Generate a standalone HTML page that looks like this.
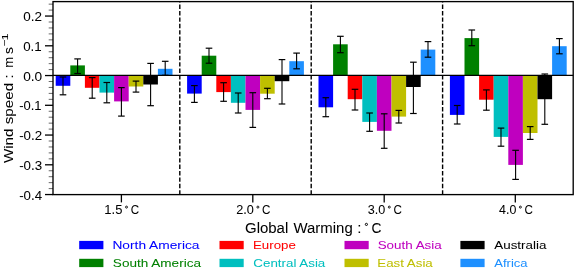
<!DOCTYPE html>
<html><head><meta charset="utf-8"><style>
html,body{margin:0;padding:0;background:#fff;width:575px;height:268px;overflow:hidden;}
svg{display:block;filter:blur(0.3px);}
text{font-family:"Liberation Sans",sans-serif;}
</style></head><body>
<svg width="575" height="268" viewBox="0 0 575 268" font-family="Liberation Sans, sans-serif">
<rect width="575" height="268" fill="#fff"/>
<rect x="55.70" y="75.55" width="14.60" height="10.25" fill="#0000ff"/>
<rect x="70.30" y="65.40" width="14.60" height="10.15" fill="#008000"/>
<rect x="84.90" y="75.55" width="14.60" height="12.25" fill="#ff0000"/>
<rect x="99.50" y="75.55" width="14.60" height="17.05" fill="#00bfbf"/>
<rect x="114.10" y="75.55" width="14.60" height="25.85" fill="#bf00bf"/>
<rect x="128.70" y="75.55" width="14.60" height="10.95" fill="#bfbf00"/>
<rect x="143.30" y="75.55" width="14.60" height="8.95" fill="#000000"/>
<rect x="157.90" y="68.80" width="14.60" height="6.75" fill="#1e90ff"/>
<rect x="187.10" y="75.55" width="14.60" height="18.05" fill="#0000ff"/>
<rect x="201.70" y="55.70" width="14.60" height="19.85" fill="#008000"/>
<rect x="216.30" y="75.55" width="14.60" height="16.55" fill="#ff0000"/>
<rect x="230.90" y="75.55" width="14.60" height="27.25" fill="#00bfbf"/>
<rect x="245.50" y="75.55" width="14.60" height="34.35" fill="#bf00bf"/>
<rect x="260.10" y="75.55" width="14.60" height="18.15" fill="#bfbf00"/>
<rect x="274.70" y="75.55" width="14.60" height="5.65" fill="#000000"/>
<rect x="289.30" y="61.20" width="14.60" height="14.35" fill="#1e90ff"/>
<rect x="318.50" y="75.55" width="14.60" height="31.75" fill="#0000ff"/>
<rect x="333.10" y="44.30" width="14.60" height="31.25" fill="#008000"/>
<rect x="347.70" y="75.55" width="14.60" height="23.65" fill="#ff0000"/>
<rect x="362.30" y="75.55" width="14.60" height="46.35" fill="#00bfbf"/>
<rect x="376.90" y="75.55" width="14.60" height="55.25" fill="#bf00bf"/>
<rect x="391.50" y="75.55" width="14.60" height="41.05" fill="#bfbf00"/>
<rect x="406.10" y="75.55" width="14.60" height="11.45" fill="#000000"/>
<rect x="420.70" y="49.60" width="14.60" height="25.95" fill="#1e90ff"/>
<rect x="449.90" y="75.55" width="14.60" height="39.35" fill="#0000ff"/>
<rect x="464.50" y="38.10" width="14.60" height="37.45" fill="#008000"/>
<rect x="479.10" y="75.55" width="14.60" height="24.15" fill="#ff0000"/>
<rect x="493.70" y="75.55" width="14.60" height="61.35" fill="#00bfbf"/>
<rect x="508.30" y="75.55" width="14.60" height="89.35" fill="#bf00bf"/>
<rect x="522.90" y="75.55" width="14.60" height="57.45" fill="#bfbf00"/>
<rect x="537.50" y="75.55" width="14.60" height="23.65" fill="#000000"/>
<rect x="552.10" y="46.20" width="14.60" height="29.35" fill="#1e90ff"/>
<line x1="53.0" y1="75.35" x2="573.2" y2="75.35" stroke="#000" stroke-width="1.2"/>
<line x1="63.00" y1="77.00" x2="63.00" y2="94.80" stroke="#000" stroke-width="1.1"/>
<line x1="59.70" y1="77.00" x2="66.30" y2="77.00" stroke="#000" stroke-width="1.2"/>
<line x1="59.70" y1="94.80" x2="66.30" y2="94.80" stroke="#000" stroke-width="1.2"/>
<line x1="77.60" y1="58.90" x2="77.60" y2="73.50" stroke="#000" stroke-width="1.1"/>
<line x1="74.30" y1="58.90" x2="80.90" y2="58.90" stroke="#000" stroke-width="1.2"/>
<line x1="74.30" y1="73.50" x2="80.90" y2="73.50" stroke="#000" stroke-width="1.2"/>
<line x1="92.20" y1="77.60" x2="92.20" y2="98.20" stroke="#000" stroke-width="1.1"/>
<line x1="88.90" y1="77.60" x2="95.50" y2="77.60" stroke="#000" stroke-width="1.2"/>
<line x1="88.90" y1="98.20" x2="95.50" y2="98.20" stroke="#000" stroke-width="1.2"/>
<line x1="106.80" y1="82.50" x2="106.80" y2="102.80" stroke="#000" stroke-width="1.1"/>
<line x1="103.50" y1="82.50" x2="110.10" y2="82.50" stroke="#000" stroke-width="1.2"/>
<line x1="103.50" y1="102.80" x2="110.10" y2="102.80" stroke="#000" stroke-width="1.2"/>
<line x1="121.40" y1="87.60" x2="121.40" y2="116.10" stroke="#000" stroke-width="1.1"/>
<line x1="118.10" y1="87.60" x2="124.70" y2="87.60" stroke="#000" stroke-width="1.2"/>
<line x1="118.10" y1="116.10" x2="124.70" y2="116.10" stroke="#000" stroke-width="1.2"/>
<line x1="136.00" y1="81.10" x2="136.00" y2="92.10" stroke="#000" stroke-width="1.1"/>
<line x1="132.70" y1="81.10" x2="139.30" y2="81.10" stroke="#000" stroke-width="1.2"/>
<line x1="132.70" y1="92.10" x2="139.30" y2="92.10" stroke="#000" stroke-width="1.2"/>
<line x1="150.60" y1="63.40" x2="150.60" y2="105.70" stroke="#000" stroke-width="1.1"/>
<line x1="147.30" y1="63.40" x2="153.90" y2="63.40" stroke="#000" stroke-width="1.2"/>
<line x1="147.30" y1="105.70" x2="153.90" y2="105.70" stroke="#000" stroke-width="1.2"/>
<line x1="165.20" y1="61.30" x2="165.20" y2="75.30" stroke="#000" stroke-width="1.1"/>
<line x1="161.90" y1="61.30" x2="168.50" y2="61.30" stroke="#000" stroke-width="1.2"/>
<line x1="161.90" y1="75.30" x2="168.50" y2="75.30" stroke="#000" stroke-width="1.2"/>
<line x1="194.40" y1="85.60" x2="194.40" y2="102.40" stroke="#000" stroke-width="1.1"/>
<line x1="191.10" y1="85.60" x2="197.70" y2="85.60" stroke="#000" stroke-width="1.2"/>
<line x1="191.10" y1="102.40" x2="197.70" y2="102.40" stroke="#000" stroke-width="1.2"/>
<line x1="209.00" y1="48.20" x2="209.00" y2="63.20" stroke="#000" stroke-width="1.1"/>
<line x1="205.70" y1="48.20" x2="212.30" y2="48.20" stroke="#000" stroke-width="1.2"/>
<line x1="205.70" y1="63.20" x2="212.30" y2="63.20" stroke="#000" stroke-width="1.2"/>
<line x1="223.60" y1="82.70" x2="223.60" y2="101.30" stroke="#000" stroke-width="1.1"/>
<line x1="220.30" y1="82.70" x2="226.90" y2="82.70" stroke="#000" stroke-width="1.2"/>
<line x1="220.30" y1="101.30" x2="226.90" y2="101.30" stroke="#000" stroke-width="1.2"/>
<line x1="238.20" y1="93.00" x2="238.20" y2="113.00" stroke="#000" stroke-width="1.1"/>
<line x1="234.90" y1="93.00" x2="241.50" y2="93.00" stroke="#000" stroke-width="1.2"/>
<line x1="234.90" y1="113.00" x2="241.50" y2="113.00" stroke="#000" stroke-width="1.2"/>
<line x1="252.80" y1="92.70" x2="252.80" y2="127.40" stroke="#000" stroke-width="1.1"/>
<line x1="249.50" y1="92.70" x2="256.10" y2="92.70" stroke="#000" stroke-width="1.2"/>
<line x1="249.50" y1="127.40" x2="256.10" y2="127.40" stroke="#000" stroke-width="1.2"/>
<line x1="267.40" y1="88.30" x2="267.40" y2="98.70" stroke="#000" stroke-width="1.1"/>
<line x1="264.10" y1="88.30" x2="270.70" y2="88.30" stroke="#000" stroke-width="1.2"/>
<line x1="264.10" y1="98.70" x2="270.70" y2="98.70" stroke="#000" stroke-width="1.2"/>
<line x1="282.00" y1="59.60" x2="282.00" y2="104.00" stroke="#000" stroke-width="1.1"/>
<line x1="278.70" y1="59.60" x2="285.30" y2="59.60" stroke="#000" stroke-width="1.2"/>
<line x1="278.70" y1="104.00" x2="285.30" y2="104.00" stroke="#000" stroke-width="1.2"/>
<line x1="296.60" y1="53.10" x2="296.60" y2="68.80" stroke="#000" stroke-width="1.1"/>
<line x1="293.30" y1="53.10" x2="299.90" y2="53.10" stroke="#000" stroke-width="1.2"/>
<line x1="293.30" y1="68.80" x2="299.90" y2="68.80" stroke="#000" stroke-width="1.2"/>
<line x1="325.80" y1="97.70" x2="325.80" y2="116.70" stroke="#000" stroke-width="1.1"/>
<line x1="322.50" y1="97.70" x2="329.10" y2="97.70" stroke="#000" stroke-width="1.2"/>
<line x1="322.50" y1="116.70" x2="329.10" y2="116.70" stroke="#000" stroke-width="1.2"/>
<line x1="340.40" y1="36.30" x2="340.40" y2="52.70" stroke="#000" stroke-width="1.1"/>
<line x1="337.10" y1="36.30" x2="343.70" y2="36.30" stroke="#000" stroke-width="1.2"/>
<line x1="337.10" y1="52.70" x2="343.70" y2="52.70" stroke="#000" stroke-width="1.2"/>
<line x1="355.00" y1="89.30" x2="355.00" y2="110.00" stroke="#000" stroke-width="1.1"/>
<line x1="351.70" y1="89.30" x2="358.30" y2="89.30" stroke="#000" stroke-width="1.2"/>
<line x1="351.70" y1="110.00" x2="358.30" y2="110.00" stroke="#000" stroke-width="1.2"/>
<line x1="369.60" y1="113.00" x2="369.60" y2="131.30" stroke="#000" stroke-width="1.1"/>
<line x1="366.30" y1="113.00" x2="372.90" y2="113.00" stroke="#000" stroke-width="1.2"/>
<line x1="366.30" y1="131.30" x2="372.90" y2="131.30" stroke="#000" stroke-width="1.2"/>
<line x1="384.20" y1="113.80" x2="384.20" y2="148.30" stroke="#000" stroke-width="1.1"/>
<line x1="380.90" y1="113.80" x2="387.50" y2="113.80" stroke="#000" stroke-width="1.2"/>
<line x1="380.90" y1="148.30" x2="387.50" y2="148.30" stroke="#000" stroke-width="1.2"/>
<line x1="398.80" y1="110.40" x2="398.80" y2="123.00" stroke="#000" stroke-width="1.1"/>
<line x1="395.50" y1="110.40" x2="402.10" y2="110.40" stroke="#000" stroke-width="1.2"/>
<line x1="395.50" y1="123.00" x2="402.10" y2="123.00" stroke="#000" stroke-width="1.2"/>
<line x1="413.40" y1="62.20" x2="413.40" y2="113.50" stroke="#000" stroke-width="1.1"/>
<line x1="410.10" y1="62.20" x2="416.70" y2="62.20" stroke="#000" stroke-width="1.2"/>
<line x1="410.10" y1="113.50" x2="416.70" y2="113.50" stroke="#000" stroke-width="1.2"/>
<line x1="428.00" y1="41.60" x2="428.00" y2="57.20" stroke="#000" stroke-width="1.1"/>
<line x1="424.70" y1="41.60" x2="431.30" y2="41.60" stroke="#000" stroke-width="1.2"/>
<line x1="424.70" y1="57.20" x2="431.30" y2="57.20" stroke="#000" stroke-width="1.2"/>
<line x1="457.20" y1="105.50" x2="457.20" y2="124.00" stroke="#000" stroke-width="1.1"/>
<line x1="453.90" y1="105.50" x2="460.50" y2="105.50" stroke="#000" stroke-width="1.2"/>
<line x1="453.90" y1="124.00" x2="460.50" y2="124.00" stroke="#000" stroke-width="1.2"/>
<line x1="471.80" y1="30.00" x2="471.80" y2="45.70" stroke="#000" stroke-width="1.1"/>
<line x1="468.50" y1="30.00" x2="475.10" y2="30.00" stroke="#000" stroke-width="1.2"/>
<line x1="468.50" y1="45.70" x2="475.10" y2="45.70" stroke="#000" stroke-width="1.2"/>
<line x1="486.40" y1="89.90" x2="486.40" y2="110.20" stroke="#000" stroke-width="1.1"/>
<line x1="483.10" y1="89.90" x2="489.70" y2="89.90" stroke="#000" stroke-width="1.2"/>
<line x1="483.10" y1="110.20" x2="489.70" y2="110.20" stroke="#000" stroke-width="1.2"/>
<line x1="501.00" y1="128.10" x2="501.00" y2="146.20" stroke="#000" stroke-width="1.1"/>
<line x1="497.70" y1="128.10" x2="504.30" y2="128.10" stroke="#000" stroke-width="1.2"/>
<line x1="497.70" y1="146.20" x2="504.30" y2="146.20" stroke="#000" stroke-width="1.2"/>
<line x1="515.60" y1="150.30" x2="515.60" y2="179.40" stroke="#000" stroke-width="1.1"/>
<line x1="512.30" y1="150.30" x2="518.90" y2="150.30" stroke="#000" stroke-width="1.2"/>
<line x1="512.30" y1="179.40" x2="518.90" y2="179.40" stroke="#000" stroke-width="1.2"/>
<line x1="530.20" y1="126.60" x2="530.20" y2="139.40" stroke="#000" stroke-width="1.1"/>
<line x1="526.90" y1="126.60" x2="533.50" y2="126.60" stroke="#000" stroke-width="1.2"/>
<line x1="526.90" y1="139.40" x2="533.50" y2="139.40" stroke="#000" stroke-width="1.2"/>
<line x1="544.80" y1="74.00" x2="544.80" y2="124.30" stroke="#000" stroke-width="1.1"/>
<line x1="541.50" y1="74.00" x2="548.10" y2="74.00" stroke="#000" stroke-width="1.2"/>
<line x1="541.50" y1="124.30" x2="548.10" y2="124.30" stroke="#000" stroke-width="1.2"/>
<line x1="559.40" y1="38.60" x2="559.40" y2="53.80" stroke="#000" stroke-width="1.1"/>
<line x1="556.10" y1="38.60" x2="562.70" y2="38.60" stroke="#000" stroke-width="1.2"/>
<line x1="556.10" y1="53.80" x2="562.70" y2="53.80" stroke="#000" stroke-width="1.2"/>
<line x1="179.80" y1="194.6" x2="179.80" y2="1.6" stroke="#000" stroke-width="1.4" stroke-dasharray="4.4 2.0"/>
<line x1="311.20" y1="194.6" x2="311.20" y2="1.6" stroke="#000" stroke-width="1.4" stroke-dasharray="4.4 2.0"/>
<line x1="442.60" y1="194.6" x2="442.60" y2="1.6" stroke="#000" stroke-width="1.4" stroke-dasharray="4.4 2.0"/>
<rect x="53.0" y="1.6" width="520.2" height="193.0" fill="none" stroke="#000" stroke-width="1.35"/>
<line x1="45" y1="194.55" x2="53.0" y2="194.55" stroke="#000" stroke-width="1.3"/>
<line x1="48.7" y1="188.60" x2="53.0" y2="188.60" stroke="#000" stroke-width="0.6"/>
<line x1="48.7" y1="182.65" x2="53.0" y2="182.65" stroke="#000" stroke-width="0.6"/>
<line x1="48.7" y1="176.70" x2="53.0" y2="176.70" stroke="#000" stroke-width="0.6"/>
<line x1="48.7" y1="170.75" x2="53.0" y2="170.75" stroke="#000" stroke-width="0.6"/>
<line x1="45" y1="164.80" x2="53.0" y2="164.80" stroke="#000" stroke-width="1.3"/>
<line x1="48.7" y1="158.85" x2="53.0" y2="158.85" stroke="#000" stroke-width="0.6"/>
<line x1="48.7" y1="152.90" x2="53.0" y2="152.90" stroke="#000" stroke-width="0.6"/>
<line x1="48.7" y1="146.95" x2="53.0" y2="146.95" stroke="#000" stroke-width="0.6"/>
<line x1="48.7" y1="141.00" x2="53.0" y2="141.00" stroke="#000" stroke-width="0.6"/>
<line x1="45" y1="135.05" x2="53.0" y2="135.05" stroke="#000" stroke-width="1.3"/>
<line x1="48.7" y1="129.10" x2="53.0" y2="129.10" stroke="#000" stroke-width="0.6"/>
<line x1="48.7" y1="123.15" x2="53.0" y2="123.15" stroke="#000" stroke-width="0.6"/>
<line x1="48.7" y1="117.20" x2="53.0" y2="117.20" stroke="#000" stroke-width="0.6"/>
<line x1="48.7" y1="111.25" x2="53.0" y2="111.25" stroke="#000" stroke-width="0.6"/>
<line x1="45" y1="105.30" x2="53.0" y2="105.30" stroke="#000" stroke-width="1.3"/>
<line x1="48.7" y1="99.35" x2="53.0" y2="99.35" stroke="#000" stroke-width="0.6"/>
<line x1="48.7" y1="93.40" x2="53.0" y2="93.40" stroke="#000" stroke-width="0.6"/>
<line x1="48.7" y1="87.45" x2="53.0" y2="87.45" stroke="#000" stroke-width="0.6"/>
<line x1="48.7" y1="81.50" x2="53.0" y2="81.50" stroke="#000" stroke-width="0.6"/>
<line x1="45" y1="75.55" x2="53.0" y2="75.55" stroke="#000" stroke-width="1.3"/>
<line x1="48.7" y1="69.60" x2="53.0" y2="69.60" stroke="#000" stroke-width="0.6"/>
<line x1="48.7" y1="63.65" x2="53.0" y2="63.65" stroke="#000" stroke-width="0.6"/>
<line x1="48.7" y1="57.70" x2="53.0" y2="57.70" stroke="#000" stroke-width="0.6"/>
<line x1="48.7" y1="51.75" x2="53.0" y2="51.75" stroke="#000" stroke-width="0.6"/>
<line x1="45" y1="45.80" x2="53.0" y2="45.80" stroke="#000" stroke-width="1.3"/>
<line x1="48.7" y1="39.85" x2="53.0" y2="39.85" stroke="#000" stroke-width="0.6"/>
<line x1="48.7" y1="33.90" x2="53.0" y2="33.90" stroke="#000" stroke-width="0.6"/>
<line x1="48.7" y1="27.95" x2="53.0" y2="27.95" stroke="#000" stroke-width="0.6"/>
<line x1="48.7" y1="22.00" x2="53.0" y2="22.00" stroke="#000" stroke-width="0.6"/>
<line x1="45" y1="16.05" x2="53.0" y2="16.05" stroke="#000" stroke-width="1.3"/>
<line x1="48.7" y1="10.10" x2="53.0" y2="10.10" stroke="#000" stroke-width="0.6"/>
<line x1="48.7" y1="4.15" x2="53.0" y2="4.15" stroke="#000" stroke-width="0.6"/>
<line x1="121.40" y1="194.6" x2="121.40" y2="202.4" stroke="#000" stroke-width="1.3"/>
<circle cx="126.50" cy="207.1" r="1.0" fill="none" stroke="#000" stroke-width="0.9"/>
<line x1="252.80" y1="194.6" x2="252.80" y2="202.4" stroke="#000" stroke-width="1.3"/>
<circle cx="257.90" cy="207.1" r="1.0" fill="none" stroke="#000" stroke-width="0.9"/>
<line x1="384.20" y1="194.6" x2="384.20" y2="202.4" stroke="#000" stroke-width="1.3"/>
<circle cx="389.30" cy="207.1" r="1.0" fill="none" stroke="#000" stroke-width="0.9"/>
<line x1="515.30" y1="194.6" x2="515.30" y2="202.4" stroke="#000" stroke-width="1.3"/>
<circle cx="520.40" cy="207.1" r="1.0" fill="none" stroke="#000" stroke-width="0.9"/>
<circle cx="366.4" cy="224.4" r="1.1" fill="none" stroke="#000" stroke-width="1"/>
<rect x="79.2" y="240.90" width="24.2" height="8.3" fill="#0000ff"/>
<rect x="79.2" y="258.80" width="24.2" height="8.3" fill="#008000"/>
<rect x="219.5" y="240.90" width="24.2" height="8.3" fill="#ff0000"/>
<rect x="219.5" y="258.80" width="24.2" height="8.3" fill="#00bfbf"/>
<rect x="344.5" y="240.90" width="24.2" height="8.3" fill="#bf00bf"/>
<rect x="344.5" y="258.80" width="24.2" height="8.3" fill="#bfbf00"/>
<rect x="460.4" y="240.90" width="24.2" height="8.3" fill="#000000"/>
<rect x="460.4" y="258.80" width="24.2" height="8.3" fill="#1e90ff"/>
<text x="23.19" y="21.15" font-size="13.1" fill="#000" stroke="#000" stroke-width="0.04" textLength="18.74" lengthAdjust="spacingAndGlyphs">0.2</text>
<text x="23.19" y="50.90" font-size="13.1" fill="#000" stroke="#000" stroke-width="0.04" textLength="18.52" lengthAdjust="spacingAndGlyphs">0.1</text>
<text x="23.18" y="80.65" font-size="13.1" fill="#000" stroke="#000" stroke-width="0.04" textLength="19.03" lengthAdjust="spacingAndGlyphs">0.0</text>
<text x="19.18" y="110.40" font-size="13.1" fill="#000" stroke="#000" stroke-width="0.04" textLength="22.40" lengthAdjust="spacingAndGlyphs">-0.1</text>
<text x="19.16" y="140.15" font-size="13.1" fill="#000" stroke="#000" stroke-width="0.04" textLength="22.93" lengthAdjust="spacingAndGlyphs">-0.2</text>
<text x="19.16" y="169.90" font-size="13.1" fill="#000" stroke="#000" stroke-width="0.04" textLength="23.01" lengthAdjust="spacingAndGlyphs">-0.3</text>
<text x="19.17" y="199.65" font-size="13.1" fill="#000" stroke="#000" stroke-width="0.04" textLength="22.88" lengthAdjust="spacingAndGlyphs">-0.4</text>
<text x="104.37" y="214.10" font-size="12.6" fill="#000" stroke="#000" stroke-width="0.04" textLength="18.06" lengthAdjust="spacingAndGlyphs">1.5</text>
<text x="130.72" y="214.10" font-size="12.6" fill="#000" stroke="#000" stroke-width="0.04" textLength="8.43" lengthAdjust="spacingAndGlyphs">C</text>
<text x="236.17" y="214.10" font-size="12.6" fill="#000" stroke="#000" stroke-width="0.04" textLength="17.65" lengthAdjust="spacingAndGlyphs">2.0</text>
<text x="262.12" y="214.10" font-size="12.6" fill="#000" stroke="#000" stroke-width="0.04" textLength="8.43" lengthAdjust="spacingAndGlyphs">C</text>
<text x="367.70" y="214.10" font-size="12.6" fill="#000" stroke="#000" stroke-width="0.04" textLength="17.52" lengthAdjust="spacingAndGlyphs">3.0</text>
<text x="393.52" y="214.10" font-size="12.6" fill="#000" stroke="#000" stroke-width="0.04" textLength="8.43" lengthAdjust="spacingAndGlyphs">C</text>
<text x="499.05" y="214.10" font-size="12.6" fill="#000" stroke="#000" stroke-width="0.04" textLength="17.25" lengthAdjust="spacingAndGlyphs">4.0</text>
<text x="524.62" y="214.10" font-size="12.6" fill="#000" stroke="#000" stroke-width="0.04" textLength="8.43" lengthAdjust="spacingAndGlyphs">C</text>
<text x="244.99" y="232.70" font-size="13.8" fill="#000" stroke="#000" stroke-width="0.04" textLength="43.28" lengthAdjust="spacingAndGlyphs">Global</text>
<text x="293.46" y="232.70" font-size="13.8" fill="#000" stroke="#000" stroke-width="0.04" textLength="59.25" lengthAdjust="spacingAndGlyphs">Warming</text>
<text x="357.34" y="232.70" font-size="13.8" fill="#000" stroke="#000" stroke-width="0.04" textLength="4.19" lengthAdjust="spacingAndGlyphs">:</text>
<text x="371.55" y="232.70" font-size="13.8" fill="#000" stroke="#000" stroke-width="0.04" textLength="9.94" lengthAdjust="spacingAndGlyphs">C</text>
<text x="112.44" y="249.00" font-size="11.8" fill="#0000ff" stroke="#0000ff" stroke-width="0.04" textLength="87.06" lengthAdjust="spacingAndGlyphs">North America</text>
<text x="112.88" y="266.90" font-size="11.8" fill="#008000" stroke="#008000" stroke-width="0.04" textLength="88.10" lengthAdjust="spacingAndGlyphs">South America</text>
<text x="252.97" y="249.00" font-size="11.8" fill="#ff0000" stroke="#ff0000" stroke-width="0.04" textLength="42.84" lengthAdjust="spacingAndGlyphs">Europe</text>
<text x="253.39" y="266.90" font-size="11.8" fill="#00bfbf" stroke="#00bfbf" stroke-width="0.04" textLength="71.89" lengthAdjust="spacingAndGlyphs">Central Asia</text>
<text x="377.69" y="249.00" font-size="11.8" fill="#bf00bf" stroke="#bf00bf" stroke-width="0.04" textLength="64.05" lengthAdjust="spacingAndGlyphs">South Asia</text>
<text x="377.27" y="266.90" font-size="11.8" fill="#bfbf00" stroke="#bfbf00" stroke-width="0.04" textLength="55.50" lengthAdjust="spacingAndGlyphs">East Asia</text>
<text x="494.30" y="249.00" font-size="11.8" fill="#000000" stroke="#000000" stroke-width="0.04" textLength="52.04" lengthAdjust="spacingAndGlyphs">Australia</text>
<text x="494.30" y="266.90" font-size="11.8" fill="#1e90ff" stroke="#1e90ff" stroke-width="0.04" textLength="33.23" lengthAdjust="spacingAndGlyphs">Africa</text>
<g transform="rotate(-90)"><text x="-163.14" y="13.00" font-size="13.5" fill="#000" stroke="#000" stroke-width="0.04" textLength="88.80" lengthAdjust="spacingAndGlyphs">Wind speed :</text><text x="-67.85" y="13.00" font-size="13.5" fill="#000" stroke="#000" stroke-width="0.04" textLength="10.89" lengthAdjust="spacingAndGlyphs">m</text><text x="-53.98" y="13.00" font-size="13.5" fill="#000" stroke="#000" stroke-width="0.04" textLength="6.89" lengthAdjust="spacingAndGlyphs">s</text><text x="-46.22" y="7.60" font-size="9.5" fill="#000" stroke="#000" stroke-width="0.04" textLength="6.86" lengthAdjust="spacingAndGlyphs">−</text><text x="-40.62" y="7.60" font-size="9.5" fill="#000" stroke="#000" stroke-width="0.04" textLength="7.19" lengthAdjust="spacingAndGlyphs">1</text></g>
</svg>
</body></html>
